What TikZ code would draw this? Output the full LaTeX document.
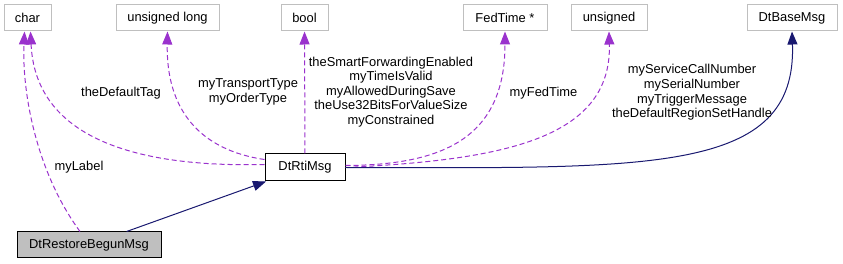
\documentclass[tikz,border=0pt]{standalone}
\usepackage{fontspec}
\setmainfont{Liberation Sans}
\usetikzlibrary{arrows.meta}
\definecolor{cpurple}{HTML}{9A32CD}
\definecolor{cnavy}{HTML}{191970}
\definecolor{cgrey}{HTML}{BFBFBF}
\tikzset{
  every picture/.style={font=\fontsize{12.9}{14.6}\selectfont, line width=1pt},
  box/.style={draw=#1, fill=white, inner sep=0pt, minimum height=26pt, align=center},
  box/.default=cgrey,
  dep/.style={draw=cpurple, dash pattern=on 5pt off 3pt, -{Triangle[length=13pt, width=10pt]}},
  inh/.style={draw=cnavy, -{Triangle[length=13pt, width=10pt]}},
  lbl/.style={align=center, inner sep=0pt},
}

\begin{document}
\begin{tikzpicture}[x=1pt, y=-1pt]
  \useasboundingbox (0,0) rectangle (843,264);
  % type nodes along the top
  \node[box, minimum width=47pt] (chartype) at (27.5,18) {char};
  \node[box, minimum width=103pt] (ulong) at (167.5,18) {unsigned long};
  \node[box, minimum width=47pt] (booltype) at (304.5,18) {bool};
  \node[box, minimum width=84pt] (fedtime) at (505,18) {FedTime *};
  \node[box, minimum width=76pt] (unsig) at (609,18) {unsigned};
  \node[box, minimum width=90pt] (basemsg) at (792,18) {DtBaseMsg};
  % classes
  \node[box=black, minimum width=80pt, minimum height=27pt] (rtimsg) at (305,167.5) {DtRtiMsg};
  \node[box=black, fill=cgrey, minimum width=144pt] (restoremsg) at (89,245) {DtRestoreBegunMsg};
  % members
  \draw[dep] ([xshift=-9pt]restoremsg.north) .. controls (35,170) and (22,90) .. ([xshift=-3pt]chartype.south);
  \draw[dep] ([yshift=3pt]rtimsg.west) .. controls (120,168) and (35,130) .. ([xshift=3pt]chartype.south);
  \draw[dep] ([yshift=-6pt]rtimsg.north west) .. controls (200,150) and (166,110) .. (ulong.south);
  \draw[dep] (rtimsg) -- (booltype);
  \draw[dep] ([yshift=2pt]rtimsg.east) .. controls (440,165) and (505,140) .. (fedtime.south);
  \draw[dep] (rtimsg.east) .. controls (500,160) and (612,140) .. (unsig.south);
  % inheritance
  \draw[inh] (rtimsg.east) .. controls (650,168) and (797,175) .. (basemsg.south);
  \draw[inh] (restoremsg) -- (rtimsg);
  % member labels
  \node[lbl] (lmylabel) at (79,167) {myLabel};
  \node[lbl] (ldeftag) at (121,93) {theDefaultTag};
  \node[lbl] (ltransport) at (248,92) {myTransportType\\myOrderType};
  \node[lbl] (lbool) at (391,92) {theSmartForwardingEnabled\\myTimeIsValid\\myAllowedDuringSave\\theUse32BitsForValueSize\\myConstrained};
  \node[lbl] (lfedtime) at (543.5,93) {myFedTime};
  \node[lbl] (lunsig) at (692,92.5) {myServiceCallNumber\\mySerialNumber\\myTriggerMessage\\theDefaultRegionSetHandle};
\end{tikzpicture}
\end{document}
